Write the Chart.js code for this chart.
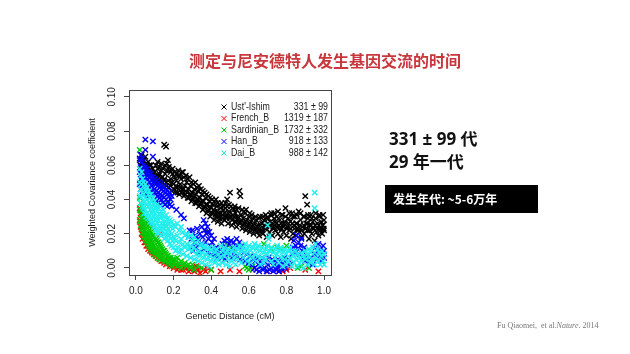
<!DOCTYPE html>
<html>
<head>
<meta charset="utf-8">
<script src="https://cdn.jsdelivr.net/npm/chart.js@4.4.0/dist/chart.umd.min.js"></script>
<style>
body{margin:0;background:#fff;width:630px;height:354px;overflow:hidden;position:relative;font-family:"Noto Sans CJK SC",sans-serif}
#c{position:absolute;left:0;top:0}
.t{position:absolute;white-space:nowrap}
.big{font-family:"Open Sans","Noto Sans CJK SC",sans-serif}
</style>
</head>
<body>
<canvas id="c" width="630" height="354"></canvas>
<div class="t" style="left:0;width:650px;text-align:center;top:50px;font-size:16px;line-height:20px;font-weight:bold;color:#c8373c">测定与尼安德特人发生基因交流的时间</div>
<div class="t big" style="left:389px;top:128px;font-size:17px;line-height:22px;font-weight:bold;color:#111">331 ± 99 代</div>
<div class="t big" style="left:389px;top:151px;font-size:17px;line-height:22px;font-weight:bold;color:#111">29 年一代</div>
<div class="t" style="left:385px;top:185px;width:153px;height:28px;background:#000;color:#fff;font-size:12px;line-height:28px;font-weight:bold;padding-left:8px;box-sizing:border-box">发生年代: ~5-6万年</div>
<div class="t" style="left:497px;top:321px;font-size:8px;line-height:10px;color:#777;font-family:'Liberation Serif',serif">Fu Qiaomei,&nbsp; et al.<i>Nature</i>. 2014</div>
<script>
// legend rows
const seriesNames = ["Ust'-Ishim", "French_B", "Sardinian_B", "Han_B", "Dai_B"];
const seriesDates = ["331 ± 99", "1319 ± 187", "1732 ± 332", "918 ± 133", "988 ± 142"];
const seriesColors = ["#000000", "#ff0000", "#00c800", "#0000ff", "#22eeee"];

const xTicks = [0.0, 0.2, 0.4, 0.6, 0.8, 1.0];
const yTicks = [0.00, 0.02, 0.04, 0.06, 0.08, 0.10];

// [genetic distance cM, weighted covariance]
const ustIshim = [[0.02,0.064],[0.025,0.060],[0.03,0.066],[0.03,0.058],[0.035,0.062],[0.04,0.056],[0.04,0.063],[0.045,0.060],[0.05,0.057],[0.05,0.065],[0.055,0.061],[0.06,0.054],[0.06,0.059],[0.065,0.062],[0.07,0.057],[0.075,0.053],[0.08,0.060],[0.085,0.055],[0.09,0.058],[0.095,0.052],[0.10,0.056],[0.105,0.050],[0.11,0.054],[0.115,0.058],[0.12,0.051],[0.125,0.055],[0.13,0.049],[0.135,0.057],[0.14,0.053],[0.145,0.048],[0.15,0.072],[0.155,0.055],[0.16,0.071],[0.16,0.050],[0.165,0.061],[0.17,0.063],[0.175,0.047],[0.18,0.057],[0.185,0.052],[0.19,0.045],[0.195,0.055],[0.20,0.049],[0.205,0.053],[0.21,0.044],[0.215,0.051],[0.22,0.047],[0.225,0.054],[0.23,0.043],[0.235,0.049],[0.24,0.052],[0.245,0.046],[0.25,0.056],[0.255,0.042],[0.26,0.048],[0.265,0.045],[0.27,0.050],[0.275,0.041],[0.28,0.046],[0.285,0.043],[0.29,0.048],[0.295,0.039],[0.30,0.044],[0.305,0.041],[0.31,0.046],[0.315,0.038],[0.32,0.043],[0.325,0.040],[0.33,0.045],[0.335,0.036],[0.34,0.041],[0.345,0.038],[0.35,0.043],[0.355,0.034],[0.36,0.039],[0.365,0.036],[0.37,0.041],[0.375,0.032],[0.38,0.021],[0.38,0.037],[0.385,0.034],[0.39,0.039],[0.395,0.030],[0.40,0.035],[0.405,0.032],[0.41,0.037],[0.415,0.028],[0.42,0.033],[0.425,0.030],[0.43,0.036],[0.435,0.027],[0.44,0.032],[0.445,0.029],[0.45,0.035],[0.455,0.026],[0.46,0.031],[0.465,0.034],[0.47,0.028],[0.475,0.038],[0.48,0.030],[0.485,0.040],[0.49,0.026],[0.495,0.033],[0.50,0.044],[0.50,0.029],[0.505,0.036],[0.51,0.025],[0.515,0.031],[0.52,0.034],[0.525,0.027],[0.53,0.032],[0.535,0.024],[0.54,0.030],[0.545,0.035],[0.55,0.045],[0.55,0.027],[0.555,0.042],[0.56,0.031],[0.565,0.023],[0.57,0.029],[0.575,0.026],[0.58,0.032],[0.585,0.022],[0.59,0.028],[0.595,0.025],[0.60,0.030],[0.605,0.021],[0.61,0.027],[0.615,0.024],[0.62,0.029],[0.625,0.020],[0.63,0.026],[0.635,0.023],[0.64,0.028],[0.645,0.021],[0.65,0.025],[0.655,0.019],[0.66,0.030],[0.665,0.022],[0.67,0.026],[0.675,0.020],[0.68,0.028],[0.685,0.023],[0.69,0.031],[0.695,0.018],[0.70,0.025],[0.705,0.029],[0.71,0.021],[0.715,0.027],[0.72,0.032],[0.725,0.019],[0.73,0.024],[0.735,0.029],[0.74,0.022],[0.745,0.026],[0.75,0.030],[0.755,0.020],[0.76,0.025],[0.765,0.028],[0.77,0.018],[0.775,0.023],[0.78,0.031],[0.785,0.021],[0.79,0.026],[0.795,0.035],[0.80,0.019],[0.805,0.024],[0.81,0.029],[0.815,0.022],[0.82,0.027],[0.825,0.017],[0.83,0.032],[0.835,0.020],[0.84,0.025],[0.845,0.030],[0.85,0.019],[0.855,0.026],[0.86,0.023],[0.865,0.033],[0.87,0.021],[0.875,0.028],[0.88,0.018],[0.885,0.024],[0.89,0.030],[0.895,0.020],[0.90,0.042],[0.905,0.026],[0.91,0.037],[0.91,0.022],[0.915,0.029],[0.92,0.017],[0.925,0.025],[0.93,0.031],[0.935,0.020],[0.94,0.027],[0.945,0.023],[0.95,0.016],[0.955,0.029],[0.96,0.021],[0.965,0.026],[0.97,0.019],[0.975,0.031],[0.98,0.023],[0.985,0.027],[0.99,0.020],[0.995,0.025],[1.0,0.022],[1.0,0.028],
[0.032,0.061],[0.042,0.059],[0.052,0.061],[0.062,0.057],[0.072,0.060],[0.082,0.056],[0.092,0.055],[0.102,0.053],[0.112,0.052],[0.122,0.054],[0.132,0.051],[0.142,0.050],[0.152,0.052],[0.162,0.048],[0.172,0.051],[0.182,0.048],[0.192,0.050],[0.202,0.046],[0.212,0.048],[0.222,0.044],[0.232,0.047],[0.242,0.044],[0.252,0.046],[0.262,0.043],[0.272,0.044],[0.282,0.041],[0.292,0.043],[0.302,0.040],[0.312,0.042],[0.322,0.038],[0.332,0.040],[0.342,0.037],[0.352,0.039],[0.362,0.035],[0.372,0.037],[0.382,0.033],[0.392,0.036],[0.402,0.032],[0.412,0.034],[0.422,0.031],[0.432,0.033],[0.442,0.030],[0.452,0.032],[0.462,0.029],[0.472,0.032],[0.482,0.029],[0.492,0.032],[0.502,0.030],[0.512,0.028],[0.522,0.030],[0.532,0.027],[0.542,0.029],[0.552,0.026],[0.562,0.028],[0.572,0.025],[0.582,0.027],[0.592,0.024],[0.602,0.026],[0.612,0.023],[0.622,0.025],[0.632,0.022],[0.642,0.024],[0.652,0.022],[0.662,0.025],[0.672,0.022],[0.682,0.025],[0.692,0.023],[0.702,0.026],[0.712,0.024],[0.722,0.026],[0.732,0.023],[0.742,0.027],[0.752,0.024],[0.762,0.023],[0.772,0.026],[0.782,0.024],[0.792,0.027],[0.802,0.023],[0.812,0.026],[0.822,0.023],[0.832,0.026],[0.842,0.023],[0.852,0.026],[0.862,0.022],[0.872,0.025],[0.882,0.022],[0.892,0.025],[0.902,0.023],[0.912,0.026],[0.922,0.022],[0.932,0.025],[0.942,0.023],[0.952,0.025],[0.962,0.023],[0.972,0.025],[0.982,0.022],[0.992,0.025],[0.998,0.023],
[0.105,0.060],[0.115,0.062],[0.125,0.059],[0.135,0.061],[0.145,0.058],[0.155,0.060],[0.165,0.057],[0.175,0.059],[0.185,0.056],[0.195,0.058],[0.205,0.056],[0.215,0.055],[0.225,0.057],[0.235,0.054],[0.245,0.056],[0.255,0.053],[0.265,0.054],[0.275,0.052],[0.285,0.053],[0.295,0.050],[0.305,0.049],[0.315,0.050],[0.325,0.047],[0.335,0.048],[0.345,0.046],[0.355,0.045],[0.365,0.044],[0.375,0.043],[0.385,0.042],[0.395,0.041],[0.405,0.040],[0.415,0.039],[0.425,0.040],[0.435,0.038],[0.445,0.037],[0.455,0.038],[0.465,0.036],[0.475,0.035],[0.485,0.036],[0.495,0.037],[0.515,0.035],[0.525,0.036],[0.535,0.034],[0.565,0.034],[0.575,0.033],[0.585,0.034],[0.605,0.032],[0.615,0.031],[0.635,0.030],[0.655,0.029],[0.675,0.030],[0.695,0.029],[0.715,0.031],[0.735,0.032],[0.755,0.033],[0.775,0.031],[0.795,0.030],[0.815,0.032],[0.835,0.030],[0.855,0.031],[0.875,0.032],[0.895,0.030],[0.915,0.031],[0.935,0.029],[0.955,0.032],[0.975,0.030],[0.995,0.031]];

const frenchB = [[0.02,0.035],[0.02,0.028],[0.025,0.032],[0.025,0.024],[0.03,0.027],[0.03,0.020],[0.035,0.023],[0.035,0.017],[0.04,0.020],[0.045,0.015],[0.05,0.018],[0.055,0.013],[0.06,0.016],[0.065,0.011],[0.07,0.014],[0.075,0.010],[0.08,0.026],[0.08,0.012],[0.085,0.009],[0.09,0.024],[0.09,0.011],[0.095,0.008],[0.10,0.010],[0.105,0.007],[0.11,0.009],[0.115,0.006],[0.12,0.008],[0.125,0.005],[0.13,0.020],[0.13,0.007],[0.135,0.004],[0.14,0.006],[0.15,0.003],[0.155,0.005],[0.16,0.002],[0.17,0.004],[0.18,0.001],[0.19,0.003],[0.20,0.000],[0.21,0.002],[0.22,-0.001],[0.23,0.001],[0.24,-0.001],[0.26,0.000],[0.28,-0.002],[0.30,0.000],[0.31,-0.002],[0.32,0.001],[0.33,-0.001],[0.34,-0.003],[0.35,0.000],[0.37,-0.002],[0.40,-0.001],[0.45,-0.002],[0.50,-0.001],[0.55,-0.002],[0.62,-0.001],[0.70,-0.002],[0.75,-0.001],[0.78,-0.002],[0.82,0.000],[0.90,-0.001],[0.97,-0.002],
[0.028,0.029],[0.032,0.024],[0.042,0.018],[0.052,0.015],[0.062,0.013],[0.072,0.012],[0.082,0.010],[0.092,0.009],[0.102,0.008],[0.145,0.004],[0.165,0.003],[0.185,0.002],[0.25,-0.001],[0.27,0.000],[0.29,-0.001],[0.36,-0.001],[0.38,0.000],[0.76,-0.002],[0.80,-0.001]];

const sardinianB = [[0.02,0.069],[0.02,0.041],[0.02,0.034],[0.02,0.027],[0.025,0.038],[0.025,0.031],[0.025,0.025],[0.03,0.036],[0.03,0.029],[0.03,0.023],[0.035,0.034],[0.035,0.027],[0.035,0.021],[0.04,0.032],[0.04,0.026],[0.04,0.020],[0.045,0.030],[0.045,0.024],[0.045,0.018],[0.05,0.029],[0.05,0.023],[0.05,0.017],[0.055,0.027],[0.055,0.021],[0.055,0.016],[0.06,0.026],[0.06,0.020],[0.06,0.015],[0.065,0.025],[0.065,0.019],[0.065,0.014],[0.07,0.024],[0.07,0.018],[0.07,0.013],[0.075,0.022],[0.075,0.017],[0.075,0.012],[0.08,0.021],[0.08,0.016],[0.08,0.011],[0.085,0.020],[0.085,0.015],[0.085,0.010],[0.09,0.019],[0.09,0.014],[0.09,0.010],[0.095,0.018],[0.095,0.013],[0.095,0.009],[0.10,0.018],[0.10,0.012],[0.10,0.008],[0.105,0.017],[0.105,0.011],[0.11,0.016],[0.11,0.011],[0.11,0.007],[0.115,0.015],[0.115,0.010],[0.12,0.015],[0.12,0.009],[0.12,0.006],[0.125,0.014],[0.125,0.008],[0.13,0.013],[0.13,0.008],[0.13,0.005],[0.135,0.012],[0.135,0.007],[0.14,0.011],[0.14,0.006],[0.145,0.010],[0.145,0.005],[0.15,0.010],[0.15,0.005],[0.155,0.009],[0.155,0.004],[0.16,0.024],[0.16,0.008],[0.16,0.004],[0.165,0.007],[0.17,0.038],[0.17,0.007],[0.17,0.003],[0.175,0.006],[0.18,0.005],[0.18,0.002],[0.185,0.006],[0.19,0.004],[0.19,0.001],[0.195,0.005],[0.20,0.003],[0.205,0.005],[0.21,0.002],[0.215,0.004],[0.22,0.006],[0.22,0.001],[0.23,0.003],[0.24,0.004],[0.24,0.000],[0.25,0.002],[0.26,0.003],[0.27,0.001],[0.28,0.002],[0.29,0.000],[0.30,0.002],[0.31,-0.001],[0.33,0.001],[0.35,0.000],[0.40,-0.001],[0.48,0.014],[0.50,0.012],[0.52,0.011],[0.55,0.013],[0.58,0.001],[0.59,0.000],[0.60,-0.001],[0.61,0.000],[0.62,0.001],[0.68,0.014],[0.72,0.011],[0.75,0.012],[0.77,0.011],[0.80,0.013],[0.85,0.010],[0.86,0.000],[0.88,0.001],[0.92,0.000]];

const hanB = [[0.02,0.063],[0.02,0.056],[0.02,0.049],[0.025,0.066],[0.025,0.059],[0.025,0.052],[0.025,0.046],[0.03,0.062],[0.03,0.055],[0.03,0.048],[0.035,0.064],[0.035,0.058],[0.035,0.051],[0.035,0.045],[0.04,0.060],[0.04,0.053],[0.04,0.047],[0.045,0.057],[0.045,0.050],[0.045,0.044],[0.05,0.075],[0.05,0.069],[0.05,0.059],[0.05,0.053],[0.05,0.046],[0.055,0.056],[0.055,0.049],[0.055,0.043],[0.06,0.058],[0.06,0.052],[0.06,0.045],[0.065,0.054],[0.065,0.048],[0.065,0.042],[0.07,0.056],[0.07,0.050],[0.07,0.044],[0.075,0.053],[0.075,0.047],[0.08,0.055],[0.08,0.049],[0.08,0.042],[0.085,0.051],[0.085,0.045],[0.09,0.074],[0.09,0.065],[0.09,0.053],[0.09,0.047],[0.09,0.041],[0.095,0.050],[0.095,0.044],[0.10,0.052],[0.10,0.046],[0.10,0.040],[0.105,0.049],[0.105,0.043],[0.11,0.051],[0.11,0.045],[0.11,0.039],[0.115,0.048],[0.115,0.042],[0.12,0.050],[0.12,0.044],[0.12,0.038],[0.125,0.047],[0.125,0.041],[0.13,0.049],[0.13,0.043],[0.13,0.037],[0.135,0.046],[0.135,0.040],[0.14,0.048],[0.14,0.042],[0.145,0.045],[0.145,0.038],[0.15,0.047],[0.15,0.041],[0.155,0.044],[0.155,0.037],[0.16,0.046],[0.16,0.040],[0.165,0.043],[0.165,0.036],[0.17,0.045],[0.17,0.039],[0.175,0.042],[0.18,0.044],[0.18,0.037],[0.185,0.040],[0.19,0.042],[0.19,0.036],[0.215,0.034],[0.24,0.031],[0.255,0.029],
[0.28,0.018],[0.285,0.022],[0.29,0.012],[0.295,0.017],[0.30,0.022],[0.305,0.010],[0.31,0.015],[0.315,0.019],[0.32,0.012],[0.325,0.023],[0.33,0.017],[0.335,0.009],[0.34,0.020],[0.345,0.014],[0.35,0.024],[0.355,0.018],[0.36,0.028],[0.36,0.011],[0.365,0.022],[0.37,0.026],[0.37,0.015],[0.375,0.020],[0.38,0.024],[0.38,0.009],[0.385,0.017],[0.39,0.021],[0.395,0.013],[0.40,0.019],[0.40,0.008],[0.405,0.015],[0.41,0.011],[0.415,0.017],[0.42,0.008],[0.425,0.012],[0.43,0.006],[0.435,0.010],[0.44,0.007],
[0.45,0.011],[0.455,0.006],[0.46,0.014],[0.465,0.009],[0.47,0.016],[0.475,0.005],[0.48,0.012],[0.485,0.017],[0.49,0.008],[0.495,0.014],[0.50,0.010],[0.505,0.016],[0.51,0.006],[0.515,0.012],[0.52,0.015],[0.525,0.009],[0.53,0.013],[0.535,0.017],[0.54,0.007],[0.545,0.012],[0.55,0.015],[0.555,0.005],[0.56,0.010],[0.565,0.013],[0.57,0.006],[0.575,0.009],[0.58,0.004],[0.59,0.008],[0.60,0.003],[0.61,0.007],[0.62,0.002],
[0.625,0.005],[0.63,0.000],[0.635,0.004],[0.64,-0.001],[0.645,0.006],[0.65,0.002],[0.655,-0.002],[0.66,0.004],[0.665,0.001],[0.67,0.006],[0.675,-0.001],[0.68,0.003],[0.685,0.000],[0.69,0.005],[0.695,-0.002],[0.70,0.002],[0.705,0.006],[0.71,-0.001],[0.715,0.003],[0.72,0.000],[0.725,0.005],[0.73,-0.002],[0.735,0.002],[0.74,0.004],[0.745,-0.001],[0.75,0.001],[0.755,0.005],[0.76,-0.002],[0.765,0.002],[0.77,0.000],[0.775,0.004],[0.78,-0.001],[0.785,0.002],[0.79,0.006],[0.795,0.000],[0.80,0.003],[0.81,0.005],[0.82,0.002],
[0.83,0.008],[0.835,0.012],[0.84,0.016],[0.845,0.009],[0.85,0.013],[0.855,0.019],[0.86,0.011],[0.865,0.015],[0.87,0.008],[0.875,0.013],[0.88,0.017],[0.885,0.010],[0.89,0.006],[0.895,0.012],[0.90,0.004],[0.91,0.007],[0.92,0.003],[0.93,0.006],[0.94,0.002],[0.95,0.008],[0.955,0.012],[0.96,0.005],[0.965,0.010],[0.97,0.014],[0.975,0.007],[0.98,0.011],[0.985,0.004],[0.99,0.009],[0.995,0.013],[1.0,0.006],[1.0,0.010]];

const daiB = [[0.02,0.058],[0.02,0.050],[0.02,0.042],[0.025,0.054],[0.025,0.046],[0.025,0.038],[0.03,0.056],[0.03,0.049],[0.03,0.041],[0.035,0.052],[0.035,0.044],[0.035,0.036],[0.04,0.050],[0.04,0.043],[0.04,0.035],[0.045,0.047],[0.045,0.039],[0.045,0.032],[0.05,0.049],[0.05,0.041],[0.05,0.034],[0.055,0.045],[0.055,0.037],[0.055,0.030],[0.06,0.047],[0.06,0.040],[0.06,0.032],[0.065,0.043],[0.065,0.036],[0.065,0.029],[0.07,0.045],[0.07,0.038],[0.07,0.031],[0.075,0.041],[0.075,0.034],[0.075,0.027],[0.08,0.043],[0.08,0.036],[0.08,0.029],[0.085,0.039],[0.085,0.032],[0.085,0.026],[0.09,0.041],[0.09,0.034],[0.09,0.027],[0.095,0.037],[0.095,0.030],[0.095,0.024],[0.10,0.039],[0.10,0.032],[0.10,0.025],[0.105,0.035],[0.105,0.028],[0.105,0.022],[0.11,0.037],[0.11,0.030],[0.11,0.023],[0.115,0.033],[0.115,0.026],[0.115,0.020],[0.12,0.035],[0.12,0.028],[0.12,0.021],[0.125,0.031],[0.125,0.024],[0.13,0.036],[0.13,0.029],[0.13,0.022],[0.135,0.033],[0.135,0.026],[0.135,0.019],[0.14,0.031],[0.14,0.024],[0.145,0.034],[0.145,0.028],[0.145,0.021],[0.15,0.030],[0.15,0.023],[0.15,0.017],[0.155,0.027],[0.155,0.020],[0.16,0.031],[0.16,0.025],[0.16,0.018],[0.165,0.028],[0.165,0.021],[0.17,0.029],[0.17,0.023],[0.17,0.016],[0.175,0.026],[0.175,0.019],[0.18,0.028],[0.18,0.021],[0.18,0.014],[0.185,0.024],[0.185,0.017],[0.19,0.027],[0.19,0.020],[0.19,0.013],[0.195,0.023],[0.195,0.016],[0.20,0.025],[0.20,0.018],[0.20,0.012],[0.21,0.024],[0.21,0.016],[0.21,0.010],[0.22,0.026],[0.22,0.019],[0.22,0.012],[0.23,0.022],[0.23,0.015],[0.23,0.009],[0.24,0.024],[0.24,0.017],[0.24,0.011],[0.25,0.021],[0.25,0.014],[0.25,0.008],[0.26,0.019],[0.26,0.012],[0.27,0.020],[0.27,0.014],[0.27,0.007],[0.28,0.018],[0.28,0.011],[0.29,0.019],[0.29,0.013],[0.29,0.006],[0.30,0.016],[0.30,0.010],[0.31,0.018],[0.31,0.012],[0.31,0.005],[0.32,0.015],[0.32,0.008],[0.33,0.016],[0.33,0.010],[0.33,0.004],[0.34,0.013],[0.34,0.007],[0.35,0.014],[0.35,0.009],[0.35,0.003],[0.36,0.012],[0.36,0.006],[0.37,0.013],[0.37,0.008],[0.37,0.002],[0.38,0.011],[0.38,0.005],[0.39,0.012],[0.39,0.007],[0.39,0.001],[0.40,0.010],[0.40,0.004],
[0.41,0.012],[0.41,0.006],[0.42,0.009],[0.42,0.003],[0.43,0.011],[0.43,0.005],[0.44,0.008],[0.44,0.002],[0.45,0.013],[0.45,0.006],[0.46,0.010],[0.46,0.003],[0.47,0.012],[0.47,0.007],[0.48,0.009],[0.48,0.002],[0.49,0.011],[0.49,0.005],[0.50,0.008],[0.50,0.001],[0.51,0.010],[0.51,0.004],[0.52,0.012],[0.52,0.006],[0.53,0.009],[0.53,0.002],[0.54,0.011],[0.54,0.005],[0.55,0.013],[0.55,0.008],[0.56,0.010],[0.56,0.003],[0.57,0.012],[0.57,0.006],[0.58,0.014],[0.58,0.009],[0.59,0.011],[0.59,0.004],[0.60,0.013],[0.60,0.007],[0.61,0.010],[0.61,0.003],[0.62,0.012],[0.62,0.006],[0.63,0.014],[0.63,0.008],[0.64,0.011],[0.64,0.004],[0.65,0.013],[0.65,0.007],[0.66,0.010],[0.66,0.002],[0.67,0.012],[0.67,0.006],[0.68,0.009],[0.68,0.003],[0.69,0.011],[0.69,0.005],[0.70,0.025],[0.70,0.013],[0.70,0.008],[0.705,0.017],[0.71,0.019],[0.71,0.010],[0.72,0.012],[0.72,0.004],[0.73,0.009],[0.73,0.002],[0.74,0.011],[0.74,0.006],[0.75,0.013],[0.75,0.008],[0.76,0.010],[0.76,0.003],[0.77,0.012],[0.77,0.006],[0.78,0.009],[0.78,0.001],[0.79,0.011],[0.79,0.005],[0.80,0.008],[0.80,0.002],[0.81,0.010],[0.81,0.004],[0.82,0.012],[0.82,0.006],[0.83,0.009],[0.83,0.001],[0.84,0.007],[0.84,0.003],[0.85,0.010],[0.85,0.005],[0.86,0.008],[0.86,0.001],[0.87,0.006],[0.87,0.003],[0.88,0.009],[0.88,0.004],[0.89,0.007],[0.89,0.000],[0.90,0.010],[0.90,0.005],[0.91,0.008],[0.91,0.002],[0.92,0.011],[0.92,0.006],[0.93,0.009],[0.93,0.003],[0.94,0.012],[0.94,0.005],[0.95,0.044],[0.95,0.035],[0.95,0.009],[0.95,0.002],[0.955,0.014],[0.96,0.006],[0.965,0.011],[0.97,0.004],[0.975,0.009],[0.98,0.002],[0.985,0.007],[0.99,0.010],[0.995,0.004],[1.0,0.008],[1.0,0.002]];

const allSeries = [ustIshim, frenchB, sardinianB, hanB, daiB];

const datasets = allSeries.map((pts, i) => ({
    label: seriesNames[i],
    data: pts.map(p => ({x: p[0], y: p[1]})),
    pointStyle: 'crossRot',
    pointRadius: 3.8,
    pointBorderWidth: 1.4,
    borderColor: seriesColors[i],
    backgroundColor: seriesColors[i],
    order: allSeries.length - i
}));

const boxPlugin = {
    id: 'box',
    afterDraw(chart) {
        const a = chart.chartArea;
        const ctx = chart.ctx;
        ctx.save();
        ctx.strokeStyle = '#444';
        ctx.lineWidth = 1;
        ctx.strokeRect(Math.round(a.left) + 0.5, Math.round(a.top) + 0.5, Math.round(a.right - a.left), Math.round(a.bottom - a.top));
        ctx.restore();
    }
};

// R style legend inside the plot, no frame
const rLegend = {
    id: 'rLegend',
    afterDraw(chart) {
        const a = chart.chartArea;
        const ctx = chart.ctx;
        ctx.save();
        ctx.font = '10.5px "Liberation Sans", Arial, sans-serif';
        ctx.textBaseline = 'middle';
        ctx.fillStyle = '#222';
        seriesNames.forEach((name, i) => {
            const y = a.top + 17 + i * 11.5;
            const mx = a.left + 95;
            ctx.strokeStyle = seriesColors[i];
            ctx.lineWidth = 1;
            ctx.beginPath();
            ctx.moveTo(mx - 2.5, y - 2.5); ctx.lineTo(mx + 2.5, y + 2.5);
            ctx.moveTo(mx - 2.5, y + 2.5); ctx.lineTo(mx + 2.5, y - 2.5);
            ctx.stroke();
            // the source picture is squeezed sideways
            ctx.save();
            ctx.translate(a.left + 102, y);
            ctx.scale(0.84, 1);
            ctx.textAlign = 'left';
            ctx.fillText(name, 0, 0);
            ctx.restore();
            ctx.save();
            ctx.translate(a.right - 3, y);
            ctx.scale(0.84, 1);
            ctx.textAlign = 'right';
            ctx.fillText(seriesDates[i], 0, 0);
            ctx.restore();
        });
        ctx.restore();
    }
};

const tickFont = {family: '"Liberation Sans", Arial, sans-serif', size: 10};
const titleFont = {family: '"Liberation Sans", Arial, sans-serif', size: 9};

new Chart(document.getElementById('c').getContext('2d'), {
    type: 'scatter',
    data: {datasets: datasets},
    options: {
        responsive: false,
        animation: false,
        devicePixelRatio: 1,
        layout: {padding: {left: 84, top: 90, right: 299, bottom: 26}},
        plugins: {legend: {display: false}, tooltip: {enabled: false}},
        scales: {
            x: {
                type: 'linear',
                min: -0.037,
                max: 1.037,
                afterFit: s => { s.height = 53; },
                afterBuildTicks: s => { s.ticks = xTicks.map(v => ({value: v})); },
                ticks: {font: tickFont, color: '#222', padding: 5, maxRotation: 0, callback: v => v.toFixed(1)},
                grid: {display: true, drawOnChartArea: false, drawTicks: true, tickLength: 5, color: '#444'},
                border: {display: true, color: '#444'},
                title: {display: true, text: 'Genetic Distance (cM)', font: titleFont, color: '#222', padding: {top: 0, bottom: 6}}
            },
            y: {
                type: 'linear',
                min: -0.0041,
                max: 0.104,
                afterFit: s => { s.width = 45; },
                afterBuildTicks: s => { s.ticks = yTicks.map(v => ({value: v})); },
                ticks: {font: tickFont, color: '#222', padding: 2, minRotation: 90, maxRotation: 90, crossAlign: 'center', callback: v => v.toFixed(2)},
                grid: {display: true, drawOnChartArea: false, drawTicks: true, tickLength: 5, color: '#444'},
                border: {display: true, color: '#444'},
                title: {display: true, text: 'Weighted Covariance coefficient', font: titleFont, color: '#222', padding: {top: 3, bottom: 0}}
            }
        }
    },
    plugins: [boxPlugin, rLegend]
});
</script>
</body>
</html>
